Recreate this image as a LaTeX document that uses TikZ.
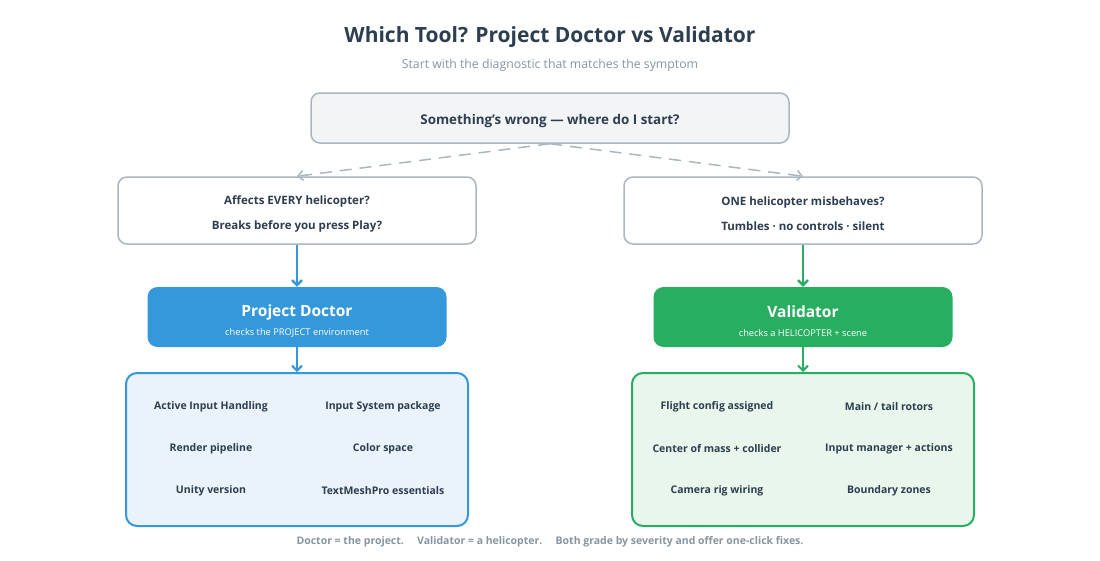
\documentclass[tikz,border=0pt]{standalone}
\usepackage{fontspec}
\setmainfont{Open Sans}
\usetikzlibrary{arrows.meta}

\definecolor{ink}{HTML}{2C3E50}
\definecolor{muted}{HTML}{8795A1}
\definecolor{edge}{HTML}{AAB7C1}
\definecolor{docblue}{HTML}{3498DB}
\definecolor{valgreen}{HTML}{27AE60}
\definecolor{paleblue}{HTML}{EAF2FB}
\definecolor{palegreen}{HTML}{E8F6EC}
\definecolor{palegray}{HTML}{F3F4F6}

\tikzset{
  askbox/.style={draw=edge, line width=1.5pt, rounded corners=9pt, fill=white,
    minimum width=358pt, minimum height=67pt, text=ink, align=center,
    font=\fontsize{11.5}{25}\selectfont\bfseries},
  toolbox/.style={rounded corners=10pt, minimum width=299pt, minimum height=60pt},
  toolname/.style={text=white, font=\fontsize{15.5}{18}\selectfont\bfseries},
  toolnote/.style={text=white, font=\fontsize{9.3}{11}\selectfont},
  listbox/.style={line width=2pt, rounded corners=11pt, minimum width=342pt,
    minimum height=153pt},
  item/.style={text=ink, font=\fontsize{10.5}{12}\selectfont\bfseries},
  flow/.style={line width=2.5pt, -{Straight Barb[length=5pt,width=10pt]}},
  maybe/.style={draw=edge, line width=1.5pt, dash pattern=on 12pt off 8pt,
    -{Straight Barb[length=5pt,width=10pt]}},
}

\begin{document}
\begin{tikzpicture}[x=1pt,y=-1pt]
\fill[white] (0,0) rectangle (1100,560);
\useasboundingbox (0,0) rectangle (1100,560);

% heading
\node[text=ink, font=\fontsize{21}{24}\selectfont\bfseries] (title) at (550,37) {Which Tool? Project Doctor vs Validator};
\node[text=muted, font=\fontsize{12.3}{14}\selectfont] (subtitle) at (550,65) {Start with the diagnostic that matches the symptom};

% the question
\node[draw=edge, line width=1.5pt, rounded corners=9pt, fill=palegray, minimum width=478pt, minimum height=50pt,
  text=ink, text height=15pt, text depth=2pt, font=\fontsize{13.4}{16}\selectfont\bfseries] (start) at (550,118) {Something's wrong — where do I start?};

\node[askbox] (askL) at (297,210.5) {\rule{0pt}{15pt}Affects EVERY helicopter?\\Breaks before you press Play?};
\node[askbox] (askR) at (803,210.5) {\rule{0pt}{15pt}ONE helicopter misbehaves?\\Tumbles · no controls · silent};

\draw[maybe] (start.south) -- (askL.north);
\draw[maybe] (start.south) -- (askR.north);

% the two tools
\node[toolbox, fill=docblue] (doctor) at (297,317) {};
\node[toolname] (doctorname) at (297,312) {Project Doctor};
\node[toolnote] (doctornote) at (297,333) {checks the PROJECT environment};
\node[toolbox, fill=valgreen] (validator) at (803,317) {};
\node[toolname] (validatorname) at (803,312) {Validator};
\node[toolnote] (validatornote) at (803,333) {checks a HELICOPTER + scene};

\draw[flow, docblue] (askL.south) -- (doctor.north);
\draw[flow, valgreen] (askR.south) -- (validator.north);

\node[listbox, draw=docblue, fill=paleblue] (doclist) at (297,449.5) {};
\node[listbox, draw=valgreen, fill=palegreen] (vallist) at (803,449.5) {};

\draw[flow, docblue, line width=2pt] (doctor.south) -- (doclist.north);
\draw[flow, valgreen, line width=2pt] (validator.south) -- (vallist.north);

% what Project Doctor looks at
\node[item] (d1) at (211,407) {Active Input Handling};
\node[item] (d2) at (383,407) {Input System package};
\node[item] (d3) at (211,449) {Render pipeline};
\node[item] (d4) at (383,449) {Color space};
\node[item] (d5) at (211,491) {Unity version};
\node[item] (d6) at (383,491) {TextMeshPro essentials};

% what Validator looks at
\node[item] (v1) at (717,407) {Flight config assigned};
\node[item] (v2) at (889,407) {Main / tail rotors};
\node[item] (v3) at (717,449) {Center of mass + collider};
\node[item] (v4) at (889,449) {Input manager + actions};
\node[item] (v5) at (717,491) {Camera rig wiring};
\node[item] (v6) at (889,491) {Boundary zones};

\node[text=muted, font=\fontsize{10.5}{12}\selectfont\bfseries] (footer) at (550,542)
  {Doctor = the project.\quad\ Validator = a helicopter.\quad\ Both grade by severity and offer one-click fixes.};
\end{tikzpicture}
\end{document}
